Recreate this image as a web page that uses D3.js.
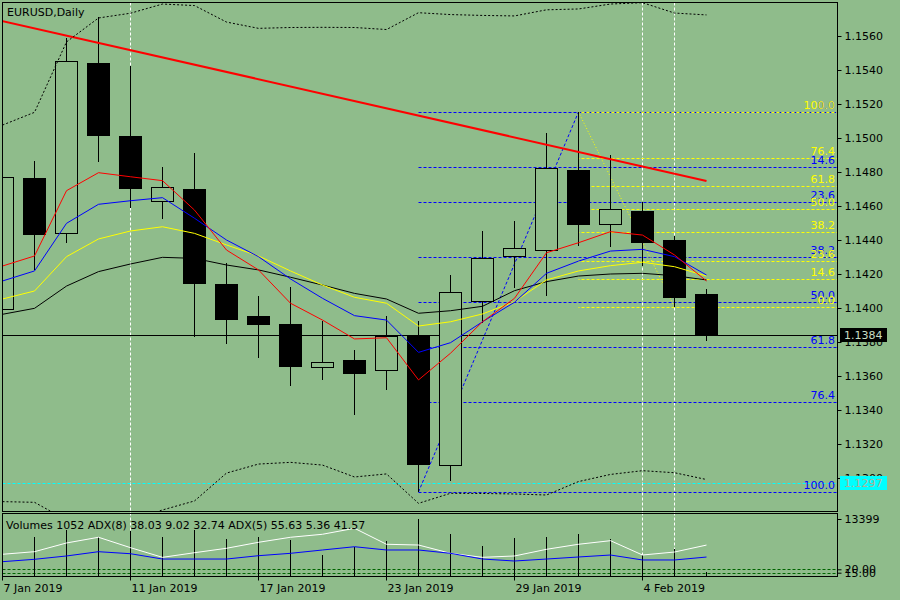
<!DOCTYPE html>
<html>
<head>
<meta charset="utf-8">
<script src="https://cdn.jsdelivr.net/npm/d3@7"></script>
<style>
html, body { margin: 0; padding: 0; background: #8fbc8b; overflow: hidden; }
svg { display: block; font-family: "DejaVu Sans", sans-serif; font-size: 11px; }
</style>
</head>
<body>
<svg id="chart" width="900" height="600"></svg>
<script>
// daily bars, EURUSD
const dates = ["7 Jan 2019","8 Jan 2019","9 Jan 2019","10 Jan 2019","11 Jan 2019","14 Jan 2019","15 Jan 2019",
  "16 Jan 2019","17 Jan 2019","18 Jan 2019","21 Jan 2019","22 Jan 2019","23 Jan 2019","24 Jan 2019","25 Jan 2019",
  "28 Jan 2019","29 Jan 2019","30 Jan 2019","31 Jan 2019","1 Feb 2019","4 Feb 2019","5 Feb 2019","6 Feb 2019"];
const open  = [1.13994,1.14763,1.14439,1.15441,1.15012,1.14628,1.14700,1.14141,1.13953,1.13906,1.13651,1.13694,
  1.13634,1.13841,1.13075,1.14039,1.14304,1.14340,1.14812,1.14492,1.14571,1.14400,1.14082];
const high  = [1.14790,1.14865,1.15590,1.15710,1.15424,1.14831,1.14910,1.14263,1.14072,1.14125,1.13924,1.13753,
  1.13953,1.13924,1.14194,1.14453,1.14512,1.15029,1.15153,1.14900,1.14622,1.14425,1.14112];
const low   = [1.13980,1.14224,1.14381,1.14861,1.14590,1.14522,1.13831,1.13788,1.13708,1.13543,1.13576,1.13372,
  1.13518,1.12918,1.12982,1.13914,1.14120,1.14069,1.14367,1.14361,1.14249,1.14006,1.13808];
const close = [1.14771,1.14434,1.15451,1.15019,1.14708,1.14710,1.14149,1.13937,1.13908,1.13659,1.13680,1.13620,
  1.13835,1.13084,1.14092,1.14294,1.14351,1.14822,1.14496,1.14580,1.14390,1.14067,1.13840];

// moving averages
const maRed    = [1.14247,1.14306,1.14690,1.14796,1.14772,1.14749,1.14576,1.14341,1.14224,1.14028,1.13929,1.13818,
  1.13825,1.13577,1.13734,1.13919,1.14057,1.14325,1.14384,1.14449,1.14429,1.14312,1.14159];
const maBlue   = [1.14159,1.14218,1.14498,1.14610,1.14631,1.14649,1.14528,1.14400,1.14302,1.14171,1.14057,1.13955,
  1.13929,1.13739,1.13796,1.13919,1.14034,1.14204,1.14276,1.14335,1.14345,1.14302,1.14194];
const maYellow = [1.14053,1.14100,1.14302,1.14406,1.14453,1.14478,1.14439,1.14371,1.14306,1.14218,1.14135,1.14063,
  1.14028,1.13894,1.13919,1.13965,1.14037,1.14165,1.14218,1.14249,1.14269,1.14243,1.14188];
const maBlack  = [1.13963,1.13998,1.14129,1.14214,1.14259,1.14298,1.14292,1.14253,1.14224,1.14181,1.14135,1.14086,
  1.14053,1.13969,1.13984,1.14010,1.14102,1.14155,1.14188,1.14200,1.14204,1.14190,1.14165];

// bollinger bands
const bandUpper = [1.15076,1.15151,1.15565,1.15706,1.15734,1.15788,1.15779,1.15682,1.15645,1.15650,1.15651,1.15650,
  1.15638,1.15737,1.15726,1.15721,1.15718,1.15754,1.15759,1.15788,1.15796,1.15735,1.15724];
const bandLower = [1.12861,1.12857,1.12753,1.12724,1.12753,1.12812,1.12865,1.13029,1.13082,1.13092,1.13076,1.13006,
  1.13024,1.12851,1.12910,1.12909,1.12906,1.12900,1.12979,1.13021,1.13043,1.13031,1.12991];

// volumes and ADX lines
const volumes = [9000,9160,10770,9090,10600,9090,10770,8610,9090,8370,5020,6700,8210,13399,9810,6940,8850,9090,
  9810,8690,5020,6460,1052];
const adx5 = [42.1,45.9,58.7,67.1,51.8,37.6,44.4,50.9,59.7,67.1,71.5,80.3,56.8,55.7,43.5,37.6,39.6,49.4,56.8,
  62.1,41.0,45.4,55.63];
const adx8 = [31.2,34.7,39.6,45.9,42.9,35.1,35.1,35.1,40.0,43.5,48.4,53.2,48.4,48.4,43.5,35.1,32.2,35.1,38.1,
  41.0,33.7,33.7,38.03];
const adxLevels = [20, 15];

// axis ticks
const priceTicks = [1.1300,1.1320,1.1340,1.1360,1.1380,1.1400,1.1420,1.1440,1.1460,1.1480,1.1500,1.1520,1.1540,1.1560];
const dateTickBars = [0, 4, 8, 12, 16, 20];

// chart objects
const fibLevels = [0, 14.6, 23.6, 38.2, 50, 61.8, 76.4, 100];
const blueFib = { lowBar: 13, low: 1.12918, highBar: 18, high: 1.15153 };
const yellowFib = { highBar: 18, high: 1.15153, lowBar: 21, low: 1.14006 };
const trendLine = { bar1: 0, price1: 1.15688, bar2: 22, price2: 1.14747 };
const cyanLevel = 1.1297;
const vlineBars = [4, 20, 21];

const bg = "#8fbc8b";
const left = 2.5, right = 837.5, mainTop = 2.5, mainBottom = 511.5, volTop = 513.5, volBottom = 576.5;

const svg = d3.select("#chart");
svg.append("rect").attr("width", 900).attr("height", 600).attr("fill", bg);

const x = d3.scaleLinear().domain([0, 1]).range([2, 34]);
const y = d3.scaleLinear().domain([1.1300, 1.1520]).range([478, 104]);
const vol = d3.scaleLinear().domain([0, 13399]).range([576, 519]);
const adxY = d3.scaleLinear().domain([0, 100]).range([582.9, 514.9]);
const px = i => x(i) + 0.5;

svg.append("defs").append("clipPath").attr("id", "clipMain")
  .append("rect").attr("x", 3).attr("y", 3).attr("width", 834).attr("height", 508);
svg.select("defs").append("clipPath").attr("id", "clipVol")
  .append("rect").attr("x", 3).attr("y", 514).attr("width", 834).attr("height", 62);

// vertical lines (behind everything)
svg.append("g").selectAll("line").data(vlineBars).join("line")
  .attr("x1", d => px(d)).attr("x2", d => px(d))
  .attr("y1", mainTop).attr("y2", volBottom)
  .attr("stroke", "#ffffff").attr("stroke-dasharray", "3,2");

const main = svg.append("g").attr("clip-path", "url(#clipMain)");

// fibo retracements
function fibLines(g, fib, color, fromBar, priceOf, offset) {
  g.append("g").selectAll("line").data(fibLevels).join("line")
    .attr("x1", px(fromBar)).attr("x2", right)
    .attr("y1", d => Math.round(y(priceOf(d))) + 0.5).attr("y2", d => Math.round(y(priceOf(d))) + 0.5)
    .attr("stroke", color).attr("stroke-dasharray", "3,2").attr("stroke-dashoffset", offset);
}
const bluePrice = l => blueFib.high - l / 100 * (blueFib.high - blueFib.low);
const yellowPrice = l => yellowFib.low + l / 100 * (yellowFib.high - yellowFib.low);
fibLines(main, blueFib, "#0000ff", blueFib.lowBar, bluePrice, 0);
fibLines(main, yellowFib, "#ffff00", yellowFib.highBar, yellowPrice, 2);

main.append("line")
  .attr("x1", px(blueFib.lowBar)).attr("y1", y(blueFib.low))
  .attr("x2", px(blueFib.highBar)).attr("y2", y(blueFib.high))
  .attr("stroke", "#0000ff").attr("stroke-dasharray", "3,2");
main.append("line")
  .attr("x1", px(yellowFib.highBar)).attr("y1", y(yellowFib.high))
  .attr("x2", px(yellowFib.lowBar)).attr("y2", y(yellowFib.low))
  .attr("stroke", "#ffff00").attr("stroke-dasharray", "1,2");

// cyan horizontal line
main.append("line")
  .attr("x1", left).attr("x2", right)
  .attr("y1", Math.round(y(cyanLevel)) + 0.5).attr("y2", Math.round(y(cyanLevel)) + 0.5)
  .attr("stroke", "#00ffff").attr("stroke-dasharray", "3,2");

// current price line
const lastY = Math.round(y(close[close.length - 1])) + 0.5;
main.append("line").attr("x1", left).attr("x2", right).attr("y1", lastY).attr("y2", lastY)
  .attr("stroke", "#000");

// candles
const bars = d3.range(dates.length);
const candle = main.append("g").attr("shape-rendering", "crispEdges");
candle.selectAll("line").data(bars).join("line")
  .attr("x1", i => px(i)).attr("x2", i => px(i))
  .attr("y1", i => y(high[i])).attr("y2", i => y(low[i]))
  .attr("stroke", "#000");
candle.selectAll("rect").data(bars).join("rect")
  .attr("x", i => x(i) - 10.5)
  .attr("width", 22)
  .attr("y", i => Math.round(y(Math.max(open[i], close[i]))) + 0.5)
  .attr("height", i => Math.max(1, Math.round(Math.abs(y(open[i]) - y(close[i])))))
  .attr("fill", i => close[i] >= open[i] ? bg : "#000")
  .attr("stroke", "#000");

// trend line
main.append("line")
  .attr("x1", px(trendLine.bar1)).attr("y1", y(trendLine.price1))
  .attr("x2", px(trendLine.bar2)).attr("y2", y(trendLine.price2))
  .attr("stroke", "#ff0000").attr("stroke-width", 2);

// bands
const line = d3.line().x((d, i) => px(i)).y(d => y(d));
[bandUpper, bandLower].forEach(b => {
  main.append("path").attr("d", line(b)).attr("fill", "none")
    .attr("stroke", "#000").attr("stroke-dasharray", "2,2");
});

// moving averages
[[maBlack, "#000000"], [maYellow, "#ffff00"], [maBlue, "#0000ff"], [maRed, "#ff0000"]].forEach(([s, c]) => {
  main.append("path").attr("d", line(s)).attr("fill", "none").attr("stroke", c);
});

// fibo labels
function fibLabels(fib, color, priceOf) {
  svg.append("g").selectAll("text").data(fibLevels).join("text")
    .attr("x", 835).attr("y", d => Math.round(y(priceOf(d))) - 3)
    .attr("text-anchor", "end").attr("fill", color)
    .text(d => d.toFixed(1));
}
fibLabels(blueFib, "#0000ff", bluePrice);
fibLabels(yellowFib, "#ffff00", yellowPrice);

// panel borders
svg.append("rect").attr("x", left).attr("y", mainTop).attr("width", right - left).attr("height", mainBottom - mainTop)
  .attr("fill", "none").attr("stroke", "#000");
svg.append("rect").attr("x", left).attr("y", volTop).attr("width", right - left).attr("height", volBottom - volTop)
  .attr("fill", "none").attr("stroke", "#000");

svg.append("text").attr("x", 7).attr("y", 16).attr("fill", "#000").text("EURUSD,Daily");

// price axis
const yAxis = d3.axisRight(y).tickValues(priceTicks).tickSize(4).tickSizeOuter(0).tickPadding(3)
  .tickFormat(d3.format(".4f"));
const gy = svg.append("g").attr("transform", `translate(${right},0)`).call(yAxis);
gy.attr("font-size", 11).attr("font-family", "DejaVu Sans");
gy.select(".domain").remove();
gy.selectAll("line").attr("stroke", "#000");
gy.selectAll("text").attr("fill", "#000");

// price labels
function priceBox(price, fillBox, fillText) {
  const cy = Math.round(y(price));
  svg.append("rect").attr("x", 840).attr("y", cy - 7).attr("width", 47).attr("height", 14).attr("fill", fillBox);
  svg.append("text").attr("x", 844).attr("y", cy).attr("dy", "0.32em").attr("fill", fillText)
    .text(d3.format(".4f")(price));
}
priceBox(close[close.length - 1], "#000000", "#c8dcc4");
priceBox(cyanLevel, "#00ffff", "#b0b098");

// volume panel
const sub = svg.append("g").attr("clip-path", "url(#clipVol)");
sub.append("g").selectAll("line").data(adxLevels).join("line")
  .attr("x1", left).attr("x2", right)
  .attr("y1", d => Math.round(adxY(d)) + 0.5).attr("y2", d => Math.round(adxY(d)) + 0.5)
  .attr("stroke", "#006400").attr("stroke-dasharray", "3,2");
sub.append("g").attr("shape-rendering", "crispEdges").selectAll("line").data(bars).join("line")
  .attr("x1", i => px(i)).attr("x2", i => px(i))
  .attr("y1", vol(0)).attr("y2", i => vol(volumes[i]))
  .attr("stroke", "#000");
const adxLine = d3.line().x((d, i) => px(i)).y(d => adxY(d));
sub.append("path").attr("d", adxLine(adx5)).attr("fill", "none").attr("stroke", "#ffffff");
sub.append("path").attr("d", adxLine(adx8)).attr("fill", "none").attr("stroke", "#0000ff");

svg.append("text").attr("x", 6).attr("y", 529).attr("fill", "#000")
  .text("Volumes 1052 ADX(8) 38.03 9.02 32.74 ADX(5) 55.63 5.36 41.57");

const gv = svg.append("g").attr("transform", `translate(${right},0)`)
  .call(d3.axisRight(vol).tickValues([13399]).tickSize(4).tickSizeOuter(0).tickPadding(3).tickFormat(d3.format("d")));
gv.attr("font-size", 11).attr("font-family", "DejaVu Sans");
gv.select(".domain").remove();
gv.selectAll("text").attr("fill", "#000");
const ga = svg.append("g").attr("transform", `translate(${right},0)`)
  .call(d3.axisRight(adxY).tickValues(adxLevels).tickSize(4).tickSizeOuter(0).tickPadding(3).tickFormat(d3.format(".2f")));
ga.attr("font-size", 11).attr("font-family", "DejaVu Sans");
ga.select(".domain").remove();
ga.selectAll("text").attr("fill", "#000");

// date axis
const gx = svg.append("g").attr("transform", `translate(0,${volBottom})`)
  .call(d3.axisBottom(x).tickValues(dateTickBars).tickSize(4).tickSizeOuter(0).tickPadding(4)
    .tickFormat(i => dates[i]));
gx.attr("font-size", 11).attr("font-family", "DejaVu Sans");
gx.select(".domain").remove();
gx.selectAll("text").attr("fill", "#000").attr("text-anchor", "start").attr("dx", 1);
</script>
</body>
</html>
